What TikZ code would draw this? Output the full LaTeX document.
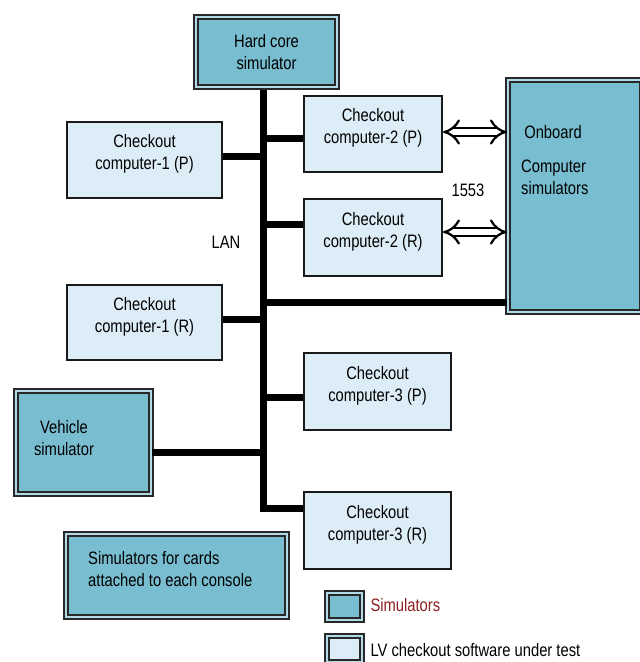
\documentclass[tikz,border=0pt]{standalone}
\usepackage{fontspec}
\setmainfont{Liberation Sans}[FakeStretch=0.82]
\usetikzlibrary{arrows.meta}

\definecolor{simfill}{RGB}{120,189,208}
\definecolor{ckfill}{RGB}{221,237,248}
\definecolor{gapcol}{RGB}{178,218,230}
\definecolor{framecol}{RGB}{40,40,40}
\definecolor{keyred}{RGB}{140,30,30}

\begin{document}
\begin{tikzpicture}[x=1pt,y=-1pt,
                    font=\fontsize{18}{22}\selectfont,
                    ckbox/.style = {draw=black!90,
                                line width=2pt,
                                fill=ckfill,
                                align=center,
                                text depth=16pt,
                                inner sep=0pt},
                    simbox/.style = {draw=framecol,
                                line width=2.2pt,
                                double=gapcol,
                                double distance=1.6pt,
                                fill=simfill,
                                inner sep=0pt},
                    lan/.style = {line width=7pt},
                    link/.style = {draw=black,
                                line width=2.2pt,
                                double=white,
                                double distance=6.5pt,
                                {Implies[scale=1.1]}-{Implies[scale=1.1]}}]
                    \useasboundingbox (0,0) rectangle (640,662);
                    % Simulators
                    \node[simbox,minimum width=141pt,minimum height=70pt,align=center] (hardcore) at (266.5,52) {Hard core\\simulator};
                    \node[simbox,minimum width=134pt,minimum height=232pt] (onboard) at (575,196) {};
                    \node[simbox,minimum width=135pt,minimum height=103pt] (vehicle) at (83.5,442.5) {};
                    \node[simbox,minimum width=221pt,minimum height=83pt] (cards) at (176.5,575.5) {};
                    % Simulator texts
                    \node (onboardtxt) at (553,132) {Onboard};
                    \node[anchor=west,align=left,inner sep=0pt] (computertxt) at (521,177) {Computer\\simulators};
                    \node[align=center] (vehicletxt) at (64,438) {Vehicle\\simulator};
                    \node[anchor=west,align=left,inner sep=0pt] (cardstxt) at (88,569) {Simulators for cards\\attached to each console};
                    % Checkout computers
                    \node[ckbox,minimum width=155pt,minimum height=76pt] (cc1p) at (144.5,160) {Checkout\\computer-1 (P)};
                    \node[ckbox,minimum width=155pt,minimum height=75pt] (cc1r) at (144.5,322.5) {Checkout\\computer-1 (R)};
                    \node[ckbox,minimum width=138pt,minimum height=76pt] (cc2p) at (373,134) {Checkout\\computer-2 (P)};
                    \node[ckbox,minimum width=138pt,minimum height=77pt] (cc2r) at (373,237.5) {Checkout\\computer-2 (R)};
                    \node[ckbox,minimum width=147pt,minimum height=77pt] (cc3p) at (377.5,391.5) {Checkout\\computer-3 (P)};
                    \node[ckbox,minimum width=147pt,minimum height=77pt] (cc3r) at (377.5,530.5) {Checkout\\computer-3 (R)};
                    % LAN bus
                    \coordinate (bustop) at (263,90);
                    \coordinate (busend) at (263,512);
                    \draw[lan] (bustop) -- (busend);
                    \draw[lan] ([yshift=4pt]cc1p.east) coordinate (j1) -- (j1 -| bustop);
                    \draw[lan] ([yshift=-4pt]cc2p.west) coordinate (j2) -- (j2 -| bustop);
                    \draw[lan] ([yshift=13.5pt]cc2r.west) coordinate (j3) -- (j3 -| bustop);
                    \draw[lan] ([yshift=-106pt]onboard.west) coordinate (j4) -- (j4 -| bustop);
                    \draw[lan] ([yshift=3.5pt]cc1r.east) coordinate (j5) -- (j5 -| bustop);
                    \draw[lan] ([yshift=-5.5pt]cc3p.west) coordinate (j6) -- (j6 -| bustop);
                    \draw[lan] ([yshift=-9.5pt]vehicle.east) coordinate (j7) -- (j7 -| bustop);
                    \draw[lan] ([yshift=22.5pt]cc3r.west) coordinate (j8) -- (j8 -| bustop);
                    % 1553 links
                    \draw[link] ([yshift=2pt]cc2p.east) coordinate (k1) -- (k1 -| onboard.west);
                    \draw[link] ([yshift=5.5pt]cc2r.east) coordinate (k2) -- (k2 -| onboard.west);
                    % Bus labels
                    \node (lanlabel) at (226,242) {LAN};
                    \node (milbus) at (468,190) {1553};
                    % Legend
                    \node[simbox,minimum width=35pt,minimum height=27pt] (simkey) at (344.5,606.5) {};
                    \node[simbox,fill=ckfill,minimum width=35pt,minimum height=26pt] (ckkey) at (344.5,649) {};
                    \node[anchor=west,text=keyred] (simkeytxt) at (367,605) {Simulators};
                    \node[anchor=west] (ckkeytxt) at (367,650) {LV checkout software under test};
                \end{tikzpicture}
\end{document}
